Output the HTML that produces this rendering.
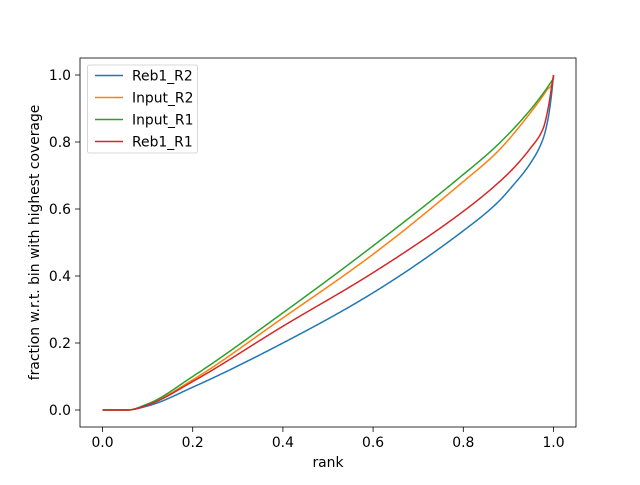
<!DOCTYPE html>
<html><head><meta charset="utf-8"><style>
body{margin:0;background:#fff;}
text{font-family:"DejaVu Sans","Liberation Sans",sans-serif;font-size:13.9px;fill:#000;}
</style></head><body>
<svg width="640" height="480" xmlns="http://www.w3.org/2000/svg">
<rect width="640" height="480" fill="#fff"/>
<g fill="none" stroke-width="1.5" stroke-linejoin="round">
<polyline id="c0" stroke="#1f77b4" points=""/>
<polyline id="c1" stroke="#ff7f0e" points=""/>
<polyline id="c2" stroke="#2ca02c" points=""/>
<polyline id="c3" stroke="#d62728" points=""/>
</g>
<rect x="80" y="58" width="496" height="369" fill="none" stroke="#000" stroke-width="0.8"/>
<g stroke="#000" stroke-width="0.8">
<line x1="102.5" y1="427" x2="102.5" y2="432"/><line x1="192.7" y1="427" x2="192.7" y2="432"/><line x1="282.9" y1="427" x2="282.9" y2="432"/><line x1="373.1" y1="427" x2="373.1" y2="432"/><line x1="463.3" y1="427" x2="463.3" y2="432"/><line x1="553.5" y1="427" x2="553.5" y2="432"/>
<line x1="75" y1="410" x2="80" y2="410"/><line x1="75" y1="343" x2="80" y2="343"/><line x1="75" y1="276" x2="80" y2="276"/><line x1="75" y1="209" x2="80" y2="209"/><line x1="75" y1="142" x2="80" y2="142"/><line x1="75" y1="75" x2="80" y2="75"/>
</g>
<g text-anchor="middle">
<text x="102.5" y="447">0.0</text><text x="192.7" y="447">0.2</text><text x="282.9" y="447">0.4</text><text x="373.1" y="447">0.6</text><text x="463.3" y="447">0.8</text><text x="553.5" y="447">1.0</text>
<text x="328" y="467">rank</text>
</g>
<g text-anchor="end">
<text x="71" y="415">0.0</text><text x="71" y="348">0.2</text><text x="71" y="281">0.4</text><text x="71" y="214">0.6</text><text x="71" y="147">0.8</text><text x="71" y="80">1.0</text>
</g>
<text transform="translate(39,242.5) rotate(-90)" text-anchor="middle">fraction w.r.t. bin with highest coverage</text>
<rect x="87.5" y="65" width="110" height="88" rx="2" fill="#fff" fill-opacity="0.8" stroke="#ccc" stroke-width="0.8"/>
<g stroke-width="1.5">
<line x1="95" y1="75.5" x2="123" y2="75.5" stroke="#1f77b4"/>
<line x1="95" y1="97.5" x2="123" y2="97.5" stroke="#ff7f0e"/>
<line x1="95" y1="119.5" x2="123" y2="119.5" stroke="#2ca02c"/>
<line x1="95" y1="141.5" x2="123" y2="141.5" stroke="#d62728"/>
</g>
<text x="132" y="80.5">Reb1_R2</text>
<text x="132" y="102.5">Input_R2</text>
<text x="132" y="124.5">Input_R1</text>
<text x="132" y="146.5">Reb1_R1</text>
</svg>
<script>
var D=[
[[0,0],[0.055,0],[0.1,0.012],[0.2,0.068],[0.4,0.2],[0.6,0.35],[0.8,0.535],[0.875,0.618],[0.91,0.67],[0.948,0.735],[0.977,0.81],[0.988,0.87],[0.996,0.946],[1,1]],
[[0,0],[0.055,0],[0.1,0.016],[0.2,0.09],[0.4,0.275],[0.6,0.465],[0.8,0.682],[0.875,0.77],[0.948,0.886],[0.985,0.955],[1,0.99],[1.0001,1]],
[[0,0],[0.055,0],[0.1,0.018],[0.2,0.1],[0.4,0.29],[0.6,0.49],[0.8,0.703],[0.875,0.79],[0.948,0.895],[0.985,0.96],[1,0.99]],
[[0,0],[0.055,0],[0.1,0.015],[0.2,0.085],[0.4,0.25],[0.6,0.41],[0.8,0.593],[0.875,0.675],[0.91,0.72],[0.948,0.78],[0.977,0.84],[0.988,0.9],[0.996,0.966],[1,1]]
];
function mono(p){
 var n=p.length,d=[],m=[];
 for(var i=0;i<n-1;i++)d.push((p[i+1][1]-p[i][1])/(p[i+1][0]-p[i][0]));
 m[0]=d[0];m[n-1]=d[n-2];
 for(i=1;i<n-1;i++){ if(d[i-1]*d[i]<=0)m[i]=0; else { var h0=p[i][0]-p[i-1][0],h1=p[i+1][0]-p[i][0]; var w1=2*h1+h0,w2=h1+2*h0; m[i]=(w1+w2)/(w1/d[i-1]+w2/d[i]); } }
 var out=[];
 for(i=0;i<n-1;i++){
  var x0=p[i][0],x1=p[i+1][0],y0=p[i][1],y1=p[i+1][1],h=x1-x0;
  var steps=Math.max(4,Math.ceil(h*600));
  for(var k=0;k<steps;k++){
   var t=k/steps,t2=t*t,t3=t2*t;
   var y=(2*t3-3*t2+1)*y0+(t3-2*t2+t)*h*m[i]+(-2*t3+3*t2)*y1+(t3-t2)*h*m[i+1];
   var x=x0+t*h;
   out.push((102.5+451*Math.min(x,1)).toFixed(2)+","+(410-335*y).toFixed(2));
  }
 }
 var l=p[n-1];out.push((102.5+451*Math.min(l[0],1)).toFixed(2)+","+(410-335*l[1]).toFixed(2));
 return out.join(" ");
}
for(var j=0;j<4;j++)document.getElementById("c"+j).setAttribute("points",mono(D[j]));
</script>
</body></html>
